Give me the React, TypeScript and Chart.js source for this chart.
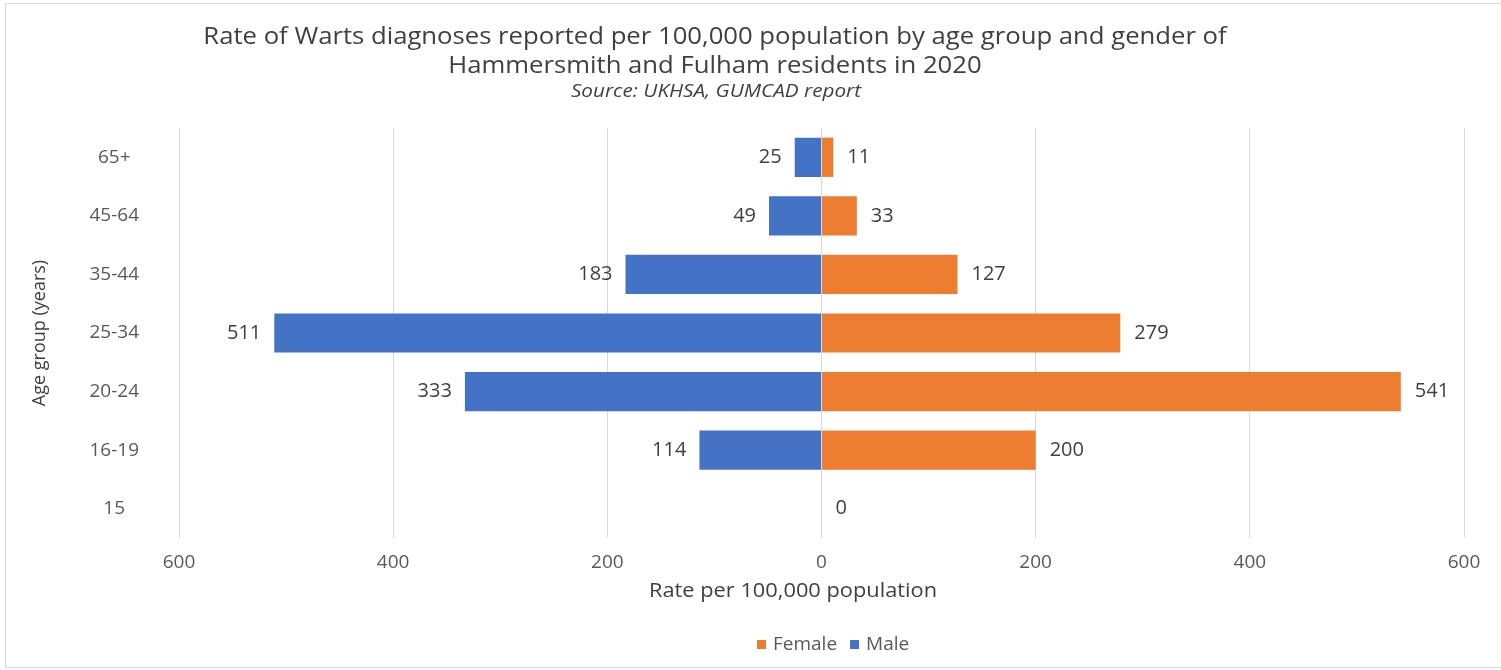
import React, { useEffect, useRef } from 'react';
import { Chart, registerables } from 'chart.js';

Chart.register(...registerables);

// Age groups, top row first
const ageGroups = ['65+', '45-64', '35-44', '25-34', '20-24', '16-19', '15'];
// Rates per 100,000 population
const maleRates: (number | null)[] = [25, 49, 183, 511, 333, 114, null];
const femaleRates: (number | null)[] = [11, 33, 127, 279, 541, 200, 0];
const rateTicks = [-600, -400, -200, 0, 200, 400, 600];

const seriesNames = ['Female', 'Male'];
const seriesColors = ['#ED7D31', '#4472C4'];

const titleLines = [
  'Rate of Warts diagnoses reported per 100,000 population by age group and gender of',
  'Hammersmith and Fulham residents in 2020',
];
const subtitle = 'Source: UKHSA, GUMCAD report';
const xAxisTitle = 'Rate per 100,000 population';
const yAxisTitle = 'Age group (years)';

const FONT = '"Open Sans", sans-serif';
const TEXT_DARK = '#404040';
const TEXT_MID = '#595959';

// Draws text with a horizontal stretch factor, anchored at (x, y)
function stretchedText(
  ctx: CanvasRenderingContext2D,
  text: string,
  x: number,
  y: number,
  sx: number,
) {
  ctx.save();
  ctx.translate(x, y);
  ctx.scale(sx, 1);
  ctx.fillText(text, 0, 0);
  ctx.restore();
}

export default function App() {
  const canvasRef = useRef<HTMLCanvasElement>(null);

  useEffect(() => {
    const canvas = canvasRef.current;
    if (!canvas) return;

    // Titles, axis titles, legend and bar value labels
    const decorations = {
      id: 'decorations',
      afterDraw(chart: any) {
        const ctx: CanvasRenderingContext2D = chart.ctx;
        const area = chart.chartArea;
        ctx.save();
        ctx.textBaseline = 'middle';

        // Chart title
        ctx.fillStyle = TEXT_DARK;
        ctx.textAlign = 'center';
        ctx.font = `24px ${FONT}`;
        stretchedText(ctx, titleLines[0], 715, 37, 1.07);
        stretchedText(ctx, titleLines[1], 715, 66, 1.07);
        ctx.font = `italic 18px ${FONT}`;
        stretchedText(ctx, subtitle, 716, 92, 1.15);

        // Axis titles
        ctx.font = `20px ${FONT}`;
        ctx.fillStyle = TEXT_DARK;
        stretchedText(ctx, xAxisTitle, 793, 591, 1.09);
        ctx.font = `18px ${FONT}`;
        ctx.save();
        ctx.translate(40, (area.top + area.bottom) / 2);
        ctx.rotate(-Math.PI / 2);
        ctx.fillText(yAxisTitle, 0, 0);
        ctx.restore();

        // Value labels at the end of each bar
        ctx.font = `20px ${FONT}`;
        ctx.fillStyle = TEXT_DARK;
        chart.data.datasets.forEach((ds: any, di: number) => {
          const meta = chart.getDatasetMeta(di);
          meta.data.forEach((el: any, i: number) => {
            const v = ds.data[i];
            if (v === null || v === undefined) return;
            const p = el.getProps(['x', 'y'], true);
            const neg = v < 0;
            ctx.textAlign = neg ? 'right' : 'left';
            ctx.fillText(String(Math.abs(v)), p.x + (neg ? -13 : 14), p.y);
          });
        });

        // Legend
        ctx.font = `19px ${FONT}`;
        ctx.textAlign = 'left';
        let lx = 757;
        const ly = 645;
        seriesNames.forEach((name, i) => {
          ctx.fillStyle = seriesColors[i];
          ctx.fillRect(lx, ly - 5, 9, 9);
          ctx.fillStyle = TEXT_MID;
          ctx.fillText(name, lx + 16, ly);
          lx += 16 + ctx.measureText(name).width + 13;
        });

        ctx.restore();
      },
    };

    const chart = new Chart(canvas, {
      type: 'bar',
      data: {
        labels: ageGroups,
        datasets: [
          {
            label: seriesNames[0],
            data: femaleRates,
            backgroundColor: seriesColors[0],
            barPercentage: 0.67,
            categoryPercentage: 1,
          },
          {
            label: seriesNames[1],
            data: maleRates.map((v) => (v === null ? null : -v)),
            backgroundColor: seriesColors[1],
            barPercentage: 0.67,
            categoryPercentage: 1,
          },
        ],
      },
      options: {
        indexAxis: 'y',
        responsive: false,
        animation: false,
        layout: { padding: { top: 128, right: 37, left: 0, bottom: 102 } },
        plugins: {
          legend: { display: false },
          title: { display: false },
          tooltip: { enabled: false },
        },
        scales: {
          x: {
            type: 'linear',
            stacked: true,
            min: rateTicks[0],
            max: rateTicks[rateTicks.length - 1],
            afterBuildTicks: (scale: any) => {
              scale.ticks = rateTicks.map((v) => ({ value: v }));
            },
            afterFit: (scale: any) => {
              scale.height = 30;
            },
            grid: { color: '#d9d9d9', lineWidth: 1, drawTicks: false },
            border: { display: false },
            ticks: {
              padding: 13,
              color: TEXT_MID,
              font: { family: FONT, size: 19 },
              callback: (v: any) => String(Math.abs(Number(v))),
            },
          },
          y: {
            stacked: true,
            afterFit: (scale: any) => {
              scale.width = 179;
            },
            grid: { display: false, drawTicks: false },
            border: { display: false },
            ticks: {
              crossAlign: 'center',
              padding: 40,
              color: TEXT_MID,
              font: { family: FONT, size: 19 },
            },
          },
        },
      },
      plugins: [decorations],
    } as any);

    return () => chart.destroy();
  }, []);

  return (
    <div style={{ position: 'fixed', left: 0, top: 0, width: 1501, height: 670, background: '#fff' }}>
      <div
        style={{
          position: 'absolute',
          left: 5,
          top: 3,
          width: 1510,
          height: 663,
          border: '1px solid #d9d9d9',
        }}
      />
      <canvas ref={canvasRef} width={1501} height={670} style={{ position: 'absolute', left: 0, top: 0 }} />
    </div>
  );
}
